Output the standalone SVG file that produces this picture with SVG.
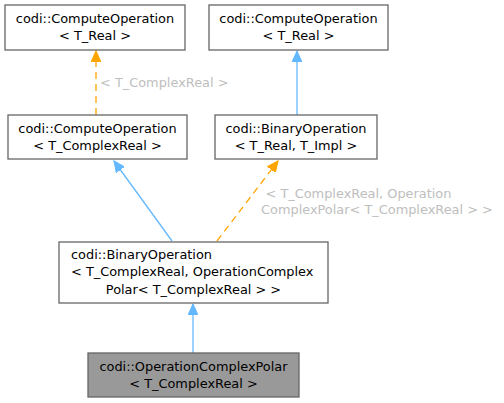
<svg xmlns="http://www.w3.org/2000/svg" width="504" height="403" viewBox="0 0 504 403">
<defs>
<style>
.n rect{fill:#ffffff;stroke:#666666;stroke-width:1.3}
.n text{font-family:"DejaVu Sans",sans-serif;font-size:12.9px;fill:#000000;text-anchor:middle}
#n6 rect{fill:#999999}
.lbl{font-family:"DejaVu Sans",sans-serif;font-size:12.9px;fill:#bebebe}
.inh{stroke:#63b8ff;stroke-width:1.3;fill:none}
.tpl{stroke:#ffa500;stroke-width:1.3;fill:none;stroke-dasharray:7,5}
</style>
<marker id="ab" markerWidth="12" markerHeight="10" refX="11" refY="5" orient="auto" markerUnits="userSpaceOnUse"><path d="M0,0L11,5L0,10z" fill="#63b8ff" stroke="#63b8ff"/></marker>
<marker id="ao" markerWidth="12" markerHeight="10" refX="11" refY="5" orient="auto" markerUnits="userSpaceOnUse"><path d="M0,0L11,5L0,10z" fill="#ffa500" stroke="#ffa500"/></marker>
</defs>
<rect width="504" height="403" fill="#ffffff"/>
<g id="edges">
<path class="tpl" d="M96,115L96,51" marker-end="url(#ao)"/>
<text class="lbl" x="100" y="87">&lt; T_ComplexReal &gt;</text>
<path class="inh" d="M297,115L297,51" marker-end="url(#ab)"/>
<path class="inh" d="M172,241L114,161" marker-end="url(#ab)"/>
<path class="tpl" d="M217,241L278,161" marker-end="url(#ao)"/>
<text class="lbl" x="265.5" y="197.5">&lt; T_ComplexReal, Operation</text>
<text class="lbl" x="261" y="213.5">ComplexPolar&lt; T_ComplexReal &gt; &gt;</text>
<path class="inh" d="M193,353L193,304" marker-end="url(#ab)"/>
</g>
<g id="n1" class="n"><rect x="5" y="5" width="180" height="45"/><text x="95" y="23">codi::ComputeOperation</text><text x="95" y="40">&lt; T_Real &gt;</text></g>
<g id="n2" class="n"><rect x="209" y="5" width="179" height="45"/><text x="298.5" y="23">codi::ComputeOperation</text><text x="298.5" y="40">&lt; T_Real &gt;</text></g>
<g id="n3" class="n"><rect x="8" y="115" width="179" height="44"/><text x="97.5" y="133">codi::ComputeOperation</text><text x="97.5" y="150">&lt; T_ComplexReal &gt;</text></g>
<g id="n4" class="n"><rect x="215" y="115" width="162" height="44"/><text x="296" y="133">codi::BinaryOperation</text><text x="296" y="150">&lt; T_Real, T_Impl &gt;</text></g>
<g id="n5" class="n"><rect x="59" y="242" width="269" height="61"/><text x="71" y="259" style="text-anchor:start">codi::BinaryOperation</text><text x="71" y="276" style="text-anchor:start">&lt; T_ComplexReal, OperationComplex</text><text x="193.5" y="294">Polar&lt; T_ComplexReal &gt; &gt;</text></g>
<g id="n6" class="n"><rect x="88" y="353" width="211" height="44"/><text x="193.5" y="371">codi::OperationComplexPolar</text><text x="193.5" y="388">&lt; T_ComplexReal &gt;</text></g>
</svg>
